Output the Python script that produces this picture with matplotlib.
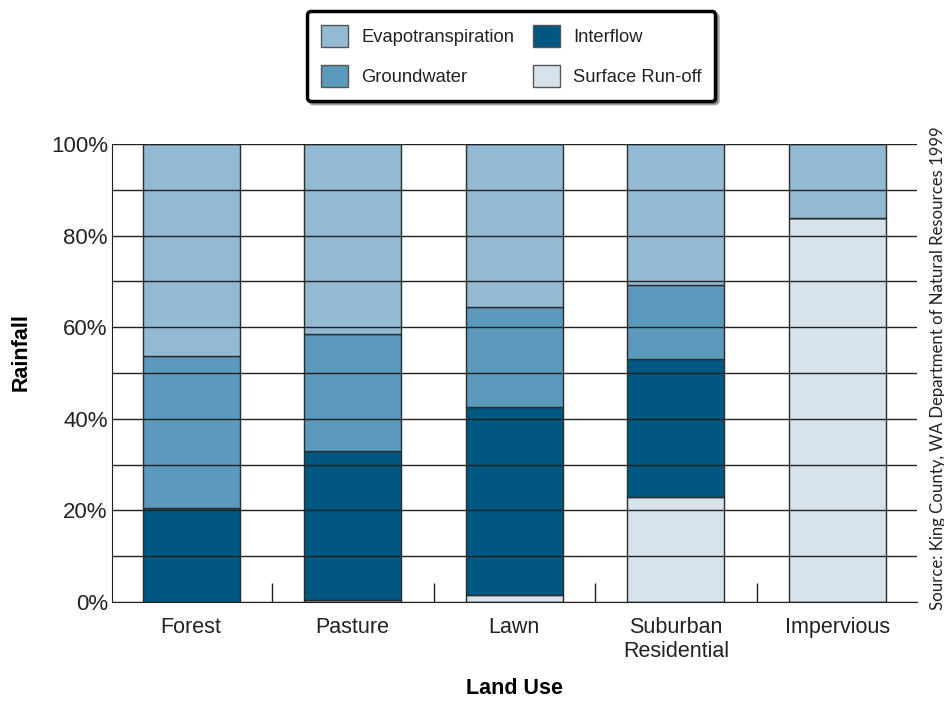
import matplotlib
matplotlib.use("Agg")
import matplotlib.pyplot as plt
import numpy as np
from matplotlib.ticker import FixedLocator, PercentFormatter

# Data (percent of rainfall)
land_use = ["Forest", "Pasture", "Lawn", "Suburban\nResidential", "Impervious"]
surface_runoff = [0.0, 0.5, 1.5, 22.9, 83.8]
interflow = [20.5, 32.5, 41.1, 30.2, 0.0]
groundwater = [33.2, 25.5, 21.8, 16.1, 0.0]
evapotranspiration = [46.3, 41.5, 35.6, 30.8, 16.2]

series = [
    ("Surface Run-off", surface_runoff, "#d6e3ec"),
    ("Interflow", interflow, "#005882"),
    ("Groundwater", groundwater, "#5b99bd"),
    ("Evapotranspiration", evapotranspiration, "#93b9d3"),
]

plt.rcParams["font.family"] = ["Liberation Sans", "DejaVu Sans"]
plt.rcParams["text.color"] = "#222222"
plt.rcParams["xtick.labelcolor"] = "#222222"
plt.rcParams["ytick.labelcolor"] = "#222222"

fig = plt.figure(figsize=(9.45, 7.01), dpi=100)
ax = fig.add_axes([0.1185, 0.1412, 0.8515, 0.6534])

x = np.arange(len(land_use))
bottom = np.zeros(len(land_use))
handles = {}
for name, vals, color in series:
    vals = np.array(vals)
    bars = ax.bar(x, vals, width=0.6, bottom=bottom, color=color,
                  edgecolor="#2b2b2b", linewidth=1.0, label=name, zorder=1)
    handles[name] = bars
    bottom += vals

ax.set_xlim(-0.49, 4.49)
ax.set_ylim(0, 100)

# grid drawn over the bars
ax.set_axisbelow(False)
ax.yaxis.set_major_locator(FixedLocator([0, 20, 40, 60, 80, 100]))
ax.yaxis.set_minor_locator(FixedLocator([10, 30, 50, 70, 90]))
ax.yaxis.set_major_formatter(PercentFormatter(decimals=0))
ax.grid(axis="y", which="both", color="#222222", linewidth=1.0)
ax.tick_params(axis="y", which="both", length=0, labelsize=16, pad=3)

ax.set_xticks(x)
ax.set_xticklabels(land_use)
ax.xaxis.set_minor_locator(FixedLocator([0.5, 1.5, 2.5, 3.5]))
ax.tick_params(axis="x", which="major", length=0, labelsize=15.5, pad=11)
ax.tick_params(axis="x", which="minor", direction="in", length=14,
               width=1.0, color="#222222")

for side in ["top", "right"]:
    ax.spines[side].set_visible(False)
ax.spines["left"].set_color("#222222")
ax.spines["bottom"].set_color("#222222")

ax.set_ylabel("Rainfall", fontsize=15.5, fontweight="bold", va="center")
ax.yaxis.set_label_coords(-0.113, 0.546)
ax.set_xlabel("Land Use", fontsize=15.5, fontweight="bold", labelpad=11)

order = ["Evapotranspiration", "Groundwater", "Interflow", "Surface Run-off"]
leg = fig.legend([handles[n] for n in order], order, ncol=2,
                 loc="upper center", bbox_to_anchor=(0.541, 0.997),
                 fontsize=13.2, frameon=True, fancybox=True, shadow=True,
                 handlelength=1.5, handleheight=1.5, labelspacing=0.95,
                 columnspacing=1.0, handletextpad=0.7, borderpad=0.75)
frame = leg.get_frame()
frame.set_edgecolor("black")
frame.set_linewidth(2.5)
for p in leg.get_patches():
    p.set_edgecolor("#555555")

fig.text(0.993, 0.475, "Source: King County, WA Department of Natural Resources 1999",
         rotation=90, ha="center", va="center", fontsize=12.1,
         family=["Lato", "DejaVu Sans"], color="#222222")

fig.savefig("out.png", dpi=100)
